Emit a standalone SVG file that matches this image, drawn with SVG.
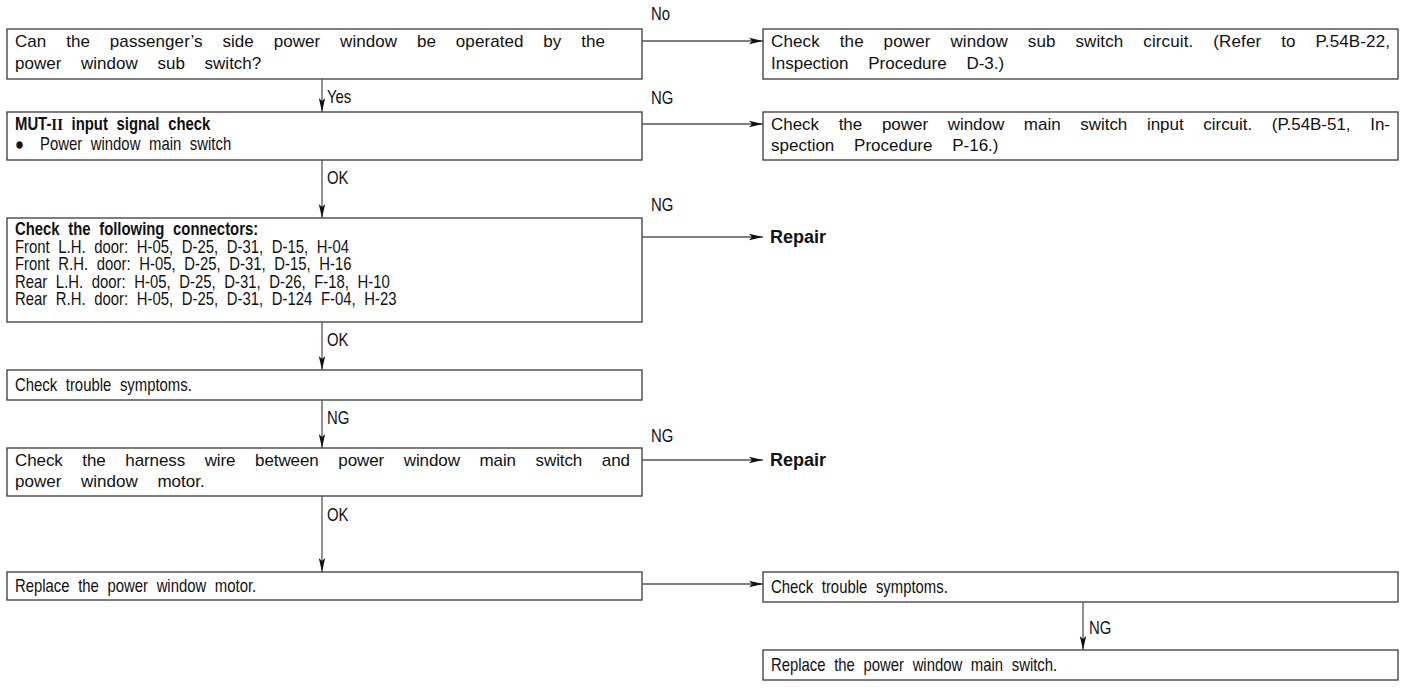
<svg xmlns="http://www.w3.org/2000/svg" width="1407" height="688" viewBox="0 0 1407 688">
<defs>
<style>
.bx{fill:#fff;stroke:#3a3a3a;stroke-width:1.3}
.t{font-family:"Liberation Sans",Arial,sans-serif;font-size:17.5px;fill:#111;word-spacing:5.3px}
.p{font-size:17px;word-spacing:15px}
.b{font-weight:bold}
.r{font-size:18px;word-spacing:0}
.c{stroke:#555;stroke-width:1.3;fill:none}
</style>
<marker id="ah" markerUnits="userSpaceOnUse" viewBox="0 0 14 8" refX="14" refY="4" markerWidth="14" markerHeight="8" orient="auto">
<path d="M0,0.8 L14,4 L0,7.2 L3,4 Z" fill="#111"/>
</marker>
</defs>
<rect width="1407" height="688" fill="#fff"/>
<g id="n1"><rect class="bx" x="7" y="29" width="635" height="50"/>
<text class="t p" x="15" y="47" textLength="590" lengthAdjust="spacing">Can the passenger’s side power window be operated by the</text>
<text class="t p" x="15" y="69">power window sub switch?</text></g>
<g id="r1"><rect class="bx" x="763" y="29" width="635" height="50"/>
<text class="t p" x="771" y="47" textLength="619" lengthAdjust="spacing">Check the power window sub switch circuit. (Refer to P.54B-22,</text>
<text class="t p" x="771" y="69">Inspection Procedure D-3.)</text></g>
<g id="n2"><rect class="bx" x="7" y="112" width="635" height="48"/>
<g transform="scale(0.85,1)">
<text class="t b" x="17.65" y="130">MUT-<tspan font-family="'Liberation Serif',serif">II</tspan> input signal check</text>
<text class="t" x="17.65" y="150">●</text><text class="t" x="47.06" y="150">Power window main switch</text></g></g>
<g id="r2"><rect class="bx" x="763" y="112" width="635" height="48"/>
<text class="t p" x="771" y="130" textLength="619" lengthAdjust="spacing">Check the power window main switch input circuit. (P.54B-51, In-</text>
<text class="t p" x="771" y="151">spection Procedure P-16.)</text></g>
<g id="n3"><rect class="bx" x="7" y="218" width="635" height="104"/>
<g transform="scale(0.85,1)">
<text class="t b" x="17.65" y="235">Check the following connectors:</text>
<text class="t" x="17.65" y="253">Front L.H. door: H-05, D-25, D-31, D-15, H-04</text>
<text class="t" x="17.65" y="270.5">Front R.H. door: H-05, D-25, D-31, D-15, H-16</text>
<text class="t" x="17.65" y="288">Rear L.H. door: H-05, D-25, D-31, D-26, F-18, H-10</text>
<text class="t" x="17.65" y="305.5">Rear R.H. door: H-05, D-25, D-31, D-124 F-04, H-23</text></g></g>
<g id="rep1"><text class="t b r" x="770" y="243">Repair</text></g>
<g id="n4"><rect class="bx" x="7" y="370" width="635" height="30"/>
<g transform="scale(0.85,1)"><text class="t" x="17.65" y="391">Check trouble symptoms.</text></g></g>
<g id="n5"><rect class="bx" x="7" y="448" width="635" height="48"/>
<text class="t p" x="15" y="466" textLength="615" lengthAdjust="spacing">Check the harness wire between power window main switch and</text>
<text class="t p" x="15" y="487">power window motor.</text></g>
<g id="rep2"><text class="t b r" x="770" y="466">Repair</text></g>
<g id="n6"><rect class="bx" x="7" y="572" width="635" height="28"/>
<g transform="scale(0.85,1)"><text class="t" x="17.65" y="592">Replace the power window motor.</text></g></g>
<g id="r6"><rect class="bx" x="763" y="572" width="635" height="30"/>
<g transform="scale(0.85,1)"><text class="t" x="907.06" y="593">Check trouble symptoms.</text></g></g>
<g id="r7"><rect class="bx" x="763" y="650" width="635" height="30"/>
<g transform="scale(0.85,1)"><text class="t" x="907.06" y="671">Replace the power window main switch.</text></g></g>
<g id="connectors">
<path class="c" d="M642,41 H763" marker-end="url(#ah)"/>
<path class="c" d="M642,124 H763" marker-end="url(#ah)"/>
<path class="c" d="M642,237 H763" marker-end="url(#ah)"/>
<path class="c" d="M642,460 H763" marker-end="url(#ah)"/>
<path class="c" d="M642,584 H763" marker-end="url(#ah)"/>
<path class="c" d="M322,79 V112" marker-end="url(#ah)"/>
<path class="c" d="M322,160 V218" marker-end="url(#ah)"/>
<path class="c" d="M322,322 V370" marker-end="url(#ah)"/>
<path class="c" d="M322,400 V448" marker-end="url(#ah)"/>
<path class="c" d="M322,496 V572" marker-end="url(#ah)"/>
<path class="c" d="M1083,602 V650" marker-end="url(#ah)"/>
<g transform="scale(0.85,1)">
<text class="t" x="765.88" y="20">No</text>
<text class="t" x="765.88" y="104">NG</text>
<text class="t" x="765.88" y="211">NG</text>
<text class="t" x="765.88" y="442">NG</text>
<text class="t" x="384.71" y="103">Yes</text>
<text class="t" x="384.71" y="184">OK</text>
<text class="t" x="384.71" y="346">OK</text>
<text class="t" x="384.71" y="424">NG</text>
<text class="t" x="384.71" y="521">OK</text>
<text class="t" x="1281.18" y="634">NG</text>
</g>
</g>
</svg>
